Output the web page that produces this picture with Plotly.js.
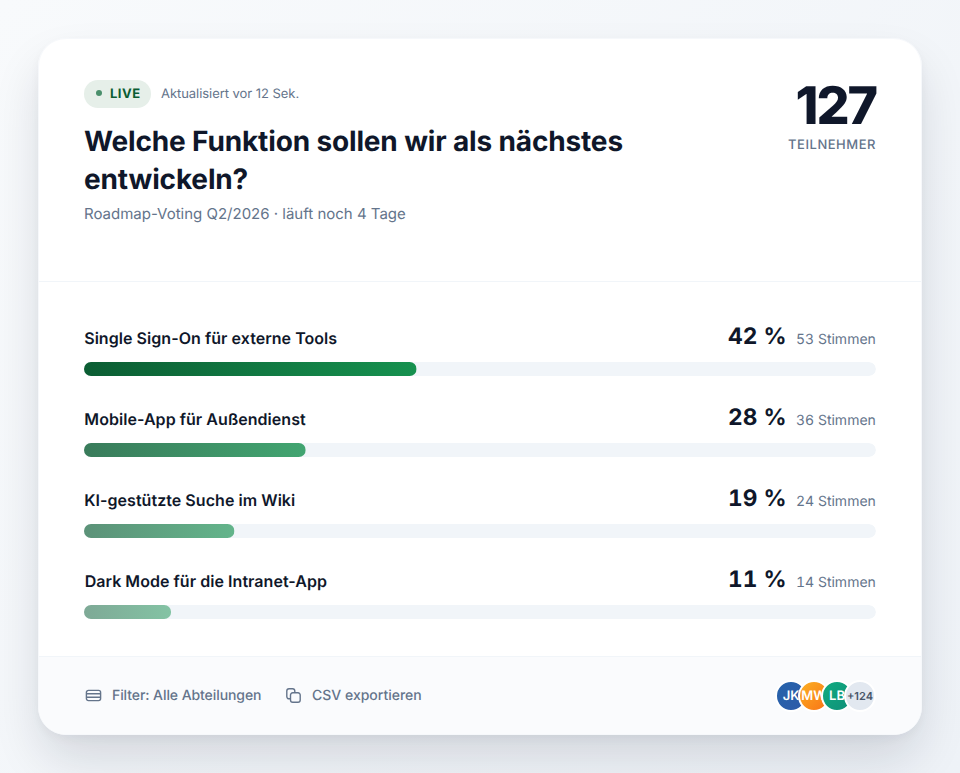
<!DOCTYPE html>
<html lang="de">
<head>
<meta charset="utf-8">
<title>Roadmap-Voting</title>
<script src="https://cdn.plot.ly/plotly-3.0.1.min.js"></script>
<style>
html,body{margin:0;padding:0;width:960px;height:773px;overflow:hidden;font-family:Inter,sans-serif;text-rendering:geometricPrecision;
  background:linear-gradient(135deg,#f8fafc 0%,#eef2f7 100%);}
svg text{text-rendering:geometricPrecision;}
.annotation-text{font-variant-numeric:tabular-nums !important;}
.annotation[data-index="0"] .annotation-text,.annotation[data-index="3"] .annotation-text,
.annotation[data-index="6"] .annotation-text,.annotation[data-index="9"] .annotation-text{font-variant-numeric:normal !important;letter-spacing:.05px;}
#card{position:absolute;left:38px;top:38px;width:884px;height:697px;box-sizing:border-box;background:#fff;
  border:1px solid #f6f8fb;border-radius:28px;overflow:hidden;}
#card-shadow{position:absolute;left:38px;top:38px;width:884px;height:697px;border-radius:28px;
  box-shadow:0 26px 50px -4px rgba(15,23,42,.14),0 4px 10px rgba(15,23,42,.04);}
#div1{position:absolute;left:0;top:242px;width:100%;height:1px;background:#f1f5f9;}
#foot{position:absolute;left:0;top:617px;width:100%;height:80px;background:#fafbfd;border-top:1px solid #f1f5f9;box-sizing:border-box;}
.abs{position:absolute;white-space:nowrap;line-height:1;}
#pill{left:84px;top:80px;width:67px;height:28px;border-radius:14px;background:#e6efe9;}
#dot{left:96px;top:90px;width:6px;height:6px;border-radius:50%;background:#4a8f6b;}
#live{left:110px;top:87px;font-size:13px;font-weight:700;letter-spacing:.52px;color:#0b5d33;line-height:15px;}
#upd{left:161px;top:86px;font-size:13px;letter-spacing:-.05px;color:#64748b;line-height:16px;}
#num{right:84px;top:78px;font-size:52px;font-weight:800;letter-spacing:-2.08px;color:#0f172a;line-height:56px;}
#tn{right:84px;top:138px;font-size:13px;font-weight:500;letter-spacing:.52px;color:#64748b;line-height:15px;}
#sub{left:84px;top:205px;font-size:15px;color:#64748b;line-height:18px;}
.ft{top:687px;font-size:14px;font-weight:500;color:#64748b;line-height:17px;}
.ic{position:absolute;}
.av{position:absolute;top:680px;width:32px;height:32px;box-sizing:border-box;border:2px solid #fff;border-radius:50%;
  color:#fff;font-size:13px;font-weight:600;text-align:center;line-height:28px;overflow:hidden;}
#plot{position:absolute;left:0;top:0;width:960px;height:773px;}
</style>
</head>
<body>
<div id="card-shadow"></div>
<div id="card"><div id="div1"></div><div id="foot"></div></div>
<div class="abs" id="pill"></div><div class="abs" id="dot"></div>
<div class="abs" id="live">LIVE</div>
<div class="abs" id="upd">Aktualisiert vor 12 Sek.</div>
<div class="abs" id="num"></div>
<div class="abs" id="tn">TEILNEHMER</div>
<div class="abs" id="sub">Roadmap-Voting Q2/2026 · läuft noch 4 Tage</div>
<svg class="ic" style="left:85px;top:689px" width="17" height="13" viewBox="0 0 17 13" fill="none" stroke="#64748b" stroke-width="1.4"><rect x="1.4" y="1.4" width="14.2" height="10.2" rx="2"/><path d="M1.4 4.8h14.2M1.4 8.2h14.2"/></svg>
<div class="abs ft" style="left:112px;letter-spacing:-.08px">Filter: Alle Abteilungen</div>
<svg class="ic" style="left:286px;top:688px" width="15" height="15" viewBox="0 0 15 15" fill="none" stroke="#64748b" stroke-width="1.4"><path d="M4.5 10.8H3A2.2 2.2 0 0 1 .8 8.6V3A2.2 2.2 0 0 1 3 .8h3.6A2.2 2.2 0 0 1 8.8 3v1.8"/><path d="M4.5 10.8V7A2.2 2.2 0 0 1 6.700 4.800h5.300A2.200 2.200 0 0 1 14.200 7v5A2.200 2.200 0 0 1 12 14.200H6.700A2.200 2.200 0 0 1 4.500 12z"/></svg>
<div class="abs ft" style="left:312px">CSV exportieren</div>
<div class="av" style="left:775px;background:linear-gradient(135deg,#2563ab,#2f5aa8);">JK</div>
<div class="av" style="left:798px;background:linear-gradient(135deg,#fbb024,#f97316);">MW</div>
<div class="av" style="left:821px;background:linear-gradient(135deg,#10ab80,#0f8f78);">LB</div>
<div class="av" style="left:844px;background:#e2e8f0;color:#475569;font-size:11px;">+124</div>
<div id="plot"></div>
<script>
var participants = 127;
var questionLines = ["Welche Funktion sollen wir als nächstes", "entwickeln?"];
var options = ["Single Sign-On für externe Tools", "Mobile-App für Außendienst", "KI-gestützte Suche im Wiki", "Dark Mode für die Intranet-App"];
var shares = [42, 28, 19, 11];
var votes = [53, 36, 24, 14];
var trackFull = [100, 100, 100, 100];
var rowOpacity = [1, 0.8, 0.65, 0.5];

document.getElementById('num').textContent = participants;

var annos = [];
options.forEach(function (o, i) {
  annos.push({xref:'x',yref:'y',x:0,xshift:-2,y:o,xanchor:'left',yanchor:'middle',yshift:31,showarrow:false,borderpad:0,
    text:o,font:{family:'Inter',size:16,weight:600,color:'#0f172a'}});
  annos.push({xref:'paper',yref:'y',x:(787-84)/792,y:o,xanchor:'right',yanchor:'middle',yshift:33,showarrow:false,borderpad:0,
    text:shares[i]+' %',font:{family:'Inter',size:22.7,weight:700,color:'#0f172a'}});
  annos.push({xref:'x',yref:'y',x:100,xshift:1,y:o,xanchor:'right',yanchor:'middle',yshift:30,showarrow:false,borderpad:0,
    text:votes[i]+' Stimmen',font:{family:'Inter',size:14,color:'#64748b'}});
});

var traces = [
  {type:'bar',orientation:'h',y:options,x:trackFull,marker:{color:'#f1f5f9'},hoverinfo:'skip',showlegend:false},
  {type:'bar',orientation:'h',y:options,x:shares,marker:{color:'#15803d',opacity:rowOpacity},hoverinfo:'skip',showlegend:false}
];
var e = 0.5 / 81;
var layout = {
  width:960,height:773,autosize:false,
  margin:{l:84,r:84,t:328,b:121,pad:0},
  paper_bgcolor:'rgba(0,0,0,0)',plot_bgcolor:'rgba(0,0,0,0)',
  barmode:'overlay',bargap:1-14/81,barcornerradius:7,showlegend:false,
  title:{text:questionLines.join('<br>'),xref:'paper',x:0,xanchor:'left',yref:'container',y:1-151/773,yanchor:'top',
    font:{family:'Inter',size:28,weight:700,color:'#0f172a'},pad:{t:0,b:0,l:0,r:0}},
  xaxis:{range:[0,100],visible:false,fixedrange:true},
  yaxis:{type:'category',categoryorder:'array',categoryarray:options,range:[3.5-e,-0.5-e],visible:false,fixedrange:true},
  annotations:annos
};
Plotly.newPlot('plot',traces,layout,{displayModeBar:false,staticPlot:true}).then(function (gd) {
  var svg = gd.querySelector('svg.main-svg');
  var ns = 'http://www.w3.org/2000/svg';
  var defs = svg.querySelector('defs');
  var g = document.createElementNS(ns,'linearGradient');
  g.setAttribute('id','barGrad');
  [['0','#0b5d33'],['1','#16914f']].forEach(function (s) {
    var st = document.createElementNS(ns,'stop');
    st.setAttribute('offset',s[0]); st.setAttribute('stop-color',s[1]); g.appendChild(st);
  });
  defs.appendChild(g);
  var groups = gd.querySelectorAll('.barlayer .trace');
  groups[1].querySelectorAll('.point path').forEach(function (p) { p.style.fill = 'url(#barGrad)'; });
  gd.querySelectorAll('.barlayer .point path').forEach(function (p) { p.style.clipPath = 'inset(0 round 7px)'; });
  var tt = gd.querySelector('.gtitle');
  if (tt) tt.style.letterSpacing = '-0.15px';
  var lines = gd.querySelectorAll('.gtitle .line');
  if (lines.length > 1) lines[1].setAttribute('dy', '38px');
});
</script>
</body>
</html>
